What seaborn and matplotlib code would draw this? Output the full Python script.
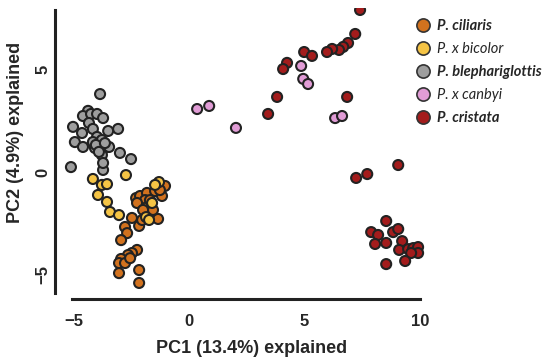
import pandas as pd
import seaborn as sns
import matplotlib.pyplot as plt
from matplotlib.lines import Line2D

# PCA scores, one pair of lists per group
ciliaris_x = [-2.47, -2.77, -2.68, -2.94, -2.16, -2.29, -2.12, -1.82, -1.47, -1.04,
              -1.17, -1.90, -2.25, -1.82, -1.34, -2.03, -2.25, -2.47, -2.64, -2.94,
              -3.03, -2.77, -2.55, -3.03, -2.16, -2.16, -1.69, -1.56, -1.99, -1.26]
ciliaris_y = [-2.24, -2.68, -2.98, -3.32, -2.63, -1.27, -1.17, -1.02, -0.93, -0.68,
              -1.17, -1.37, -1.51, -1.71, -2.29, -2.34, -3.80, -3.95, -4.05, -4.24,
              -4.44, -4.44, -4.20, -4.93, -4.78, -5.41, -1.37, -1.85, -1.85, -0.88]

bicolor_x = [-4.16, -3.77, -3.55, -2.73, -3.94, -3.55, -3.42, -3.03, -1.30, -1.47,
             -1.60, -1.86, -1.73]
bicolor_y = [-0.34, -0.63, -0.59, -0.15, -1.12, -1.46, -1.95, -2.10, -0.49, -0.63,
             -1.51, -2.20, -2.34]

blepharo_x = [-3.85, -4.37, -4.59, -4.24, -3.98, -3.72, -4.33, -5.02, -4.63, -4.16,
              -3.98, -3.50, -3.07, -4.94, -4.59, -4.16, -3.77, -4.07, -3.72, -3.46,
              -3.77, -2.99, -2.51, -5.11, -3.72, -3.72, -4.03, -3.90, -3.64]
blepharo_y = [3.80, 2.98, 2.73, 2.83, 2.83, 2.63, 2.39, 2.20, 1.90, 2.10,
              1.71, 2.00, 2.10, 1.46, 1.22, 1.46, 1.56, 1.17, 1.12, 1.22,
              0.83, 0.93, 0.63, 0.24, 0.10, 0.44, 1.32, 0.98, 1.41]

canbyi_x = [0.35, 0.87, 2.03, 4.85, 4.94, 5.15, 6.32, 6.62]
canbyi_y = [3.07, 3.22, 2.15, 5.17, 4.54, 4.29, 2.63, 2.73]

cristata_x = [7.40, 7.19, 6.88, 6.67, 6.49, 6.19, 5.97, 4.98, 5.32, 4.24,
              4.07, 3.81, 3.42, 6.84, 9.05, 7.23, 7.71, 8.53, 7.88, 8.18,
              8.05, 8.53, 8.83, 9.05, 9.22, 9.09, 9.48, 9.70, 9.91, 9.91,
              9.61, 9.35, 8.53]
cristata_y = [7.90, 6.73, 6.29, 6.10, 5.95, 6.00, 5.85, 5.85, 5.66, 5.32,
              5.02, 3.66, 2.83, 3.66, 0.34, -0.29, -0.10, -2.39, -2.93, -3.07,
              -3.51, -3.46, -2.93, -2.78, -3.37, -3.80, -3.76, -3.71, -3.66, -3.95,
              -3.95, -4.34, -4.49]

groups = ['P. ciliaris', 'P. x bicolor', 'P. blephariglottis', 'P. x canbyi', 'P. cristata']
colors = ['#D2721E', '#F5C445', '#9E9E9E', '#E19CD6', '#A31C1C']
bold_groups = ['P. ciliaris', 'P. blephariglottis', 'P. cristata']

xs = [ciliaris_x, bicolor_x, blepharo_x, canbyi_x, cristata_x]
ys = [ciliaris_y, bicolor_y, blepharo_y, canbyi_y, cristata_y]
df = pd.concat([pd.DataFrame({'PC1': x, 'PC2': y, 'group': g})
                for g, x, y in zip(groups, xs, ys)], ignore_index=True)

sns.set_style("white")
plt.rcParams['font.family'] = ['Liberation Sans', 'DejaVu Sans']

fig = plt.figure(figsize=(5.5, 3.6), dpi=100)
ax = fig.add_axes([0.10, 0.169, 0.682, 0.809])

sns.scatterplot(data=df, x='PC1', y='PC2', hue='group', hue_order=groups,
                palette=colors, s=52, edgecolor='#222222', linewidth=1.5,
                legend=False, ax=ax, zorder=3)

ax.set_xlim(-5.8, 10.43)
ax.set_ylim(-6.2, 8.0)
ax.set_xticks([-5, 0, 5, 10])
ax.set_yticks([-5, 0, 5])
sns.despine(ax=ax)
ax.spines['left'].set_bounds(-5.9, 7.9)
ax.spines['bottom'].set_bounds(-5.07, 10.0)
for side in ['left', 'bottom']:
    ax.spines[side].set_linewidth(2.2)
    ax.spines[side].set_color('#222222')

ax.tick_params(axis='both', length=0, labelsize=12)
ax.tick_params(axis='x', pad=11)
ax.tick_params(axis='y', pad=3)
for lab in ax.get_xticklabels():
    lab.set_fontweight('bold')
for lab in ax.get_yticklabels():
    lab.set_fontweight('bold')
    lab.set_rotation(90)
    lab.set_va('center')

ax.set_xlabel('PC1 (13.4%) explained', fontsize=13, fontweight='bold')
ax.set_ylabel('PC2 (4.9%) explained', fontsize=13, fontweight='bold')
ax.xaxis.set_label_coords(0.523, -0.141)
ax.yaxis.set_label_coords(-0.083, 0.574)

handles = [Line2D([], [], marker='o', linestyle='', markersize=9.5,
                  markerfacecolor=c, markeredgecolor='#333333', markeredgewidth=1.2)
           for c in colors]
leg = fig.legend(handles, groups, loc='upper left', bbox_to_anchor=(0.755, 0.947),
                 frameon=False, handlelength=1.0, handletextpad=0.5,
                 borderpad=0, borderaxespad=0, labelspacing=0.62,
                 prop={'family': ['Lato', 'DejaVu Sans'], 'size': 10.5, 'style': 'italic'})
for t in leg.get_texts():
    if t.get_text() in bold_groups:
        t.set_fontweight('bold')

fig.savefig('out.png', dpi=100)
